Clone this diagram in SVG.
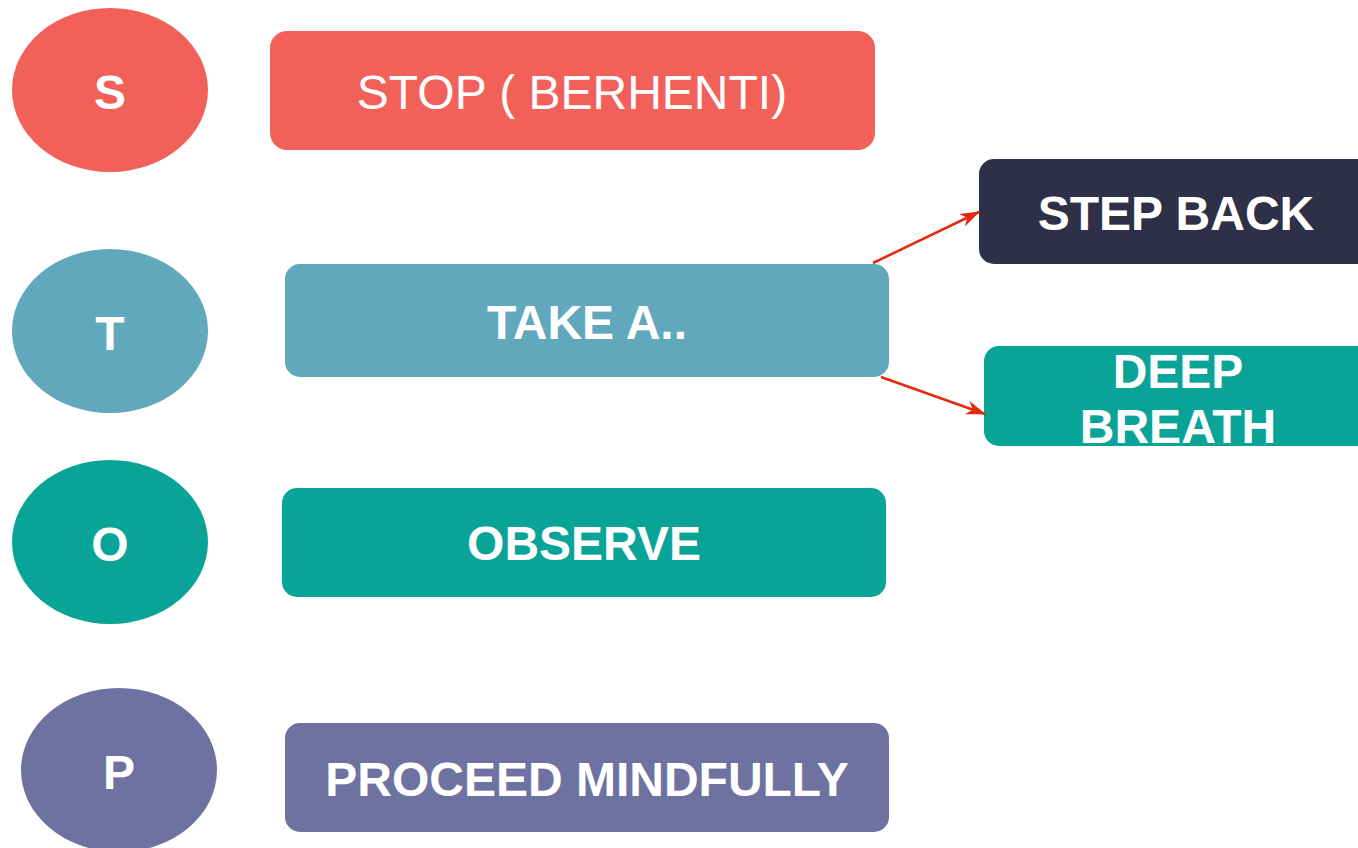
<svg xmlns="http://www.w3.org/2000/svg" width="1358" height="848" viewBox="0 0 1358 848">
  <style>
    .lbl { font-family: "Liberation Sans", Arial, sans-serif; fill: #ffffff; text-anchor: middle; font-size: 48px; }
    .b { font-weight: bold; }
    .link { stroke: #E5290E; stroke-width: 2.5; fill: none; marker-end: url(#head); }
  </style>
  <defs>
    <marker id="head" viewBox="0 0 20 14" refX="19" refY="7" markerWidth="20" markerHeight="14" markerUnits="userSpaceOnUse" orient="auto">
      <path d="M0,0 L20,7 L0,14 L6,7 z" fill="#E5290E"/>
    </marker>
  </defs>
  <rect width="1358" height="848" fill="#ffffff"/>

  <g id="circle-s">
    <ellipse cx="110" cy="90" rx="98" ry="82" fill="#F2605A"/>
    <text class="lbl b" x="110" y="109" font-size="46">S</text>
  </g>
  <g id="circle-t">
    <ellipse cx="110" cy="331" rx="98" ry="82" fill="#62A8BD"/>
    <text class="lbl b" x="110" y="350" font-size="46">T</text>
  </g>
  <g id="circle-o">
    <ellipse cx="110" cy="542" rx="98" ry="82" fill="#0AA398"/>
    <text class="lbl b" x="110" y="561" font-size="46">O</text>
  </g>
  <g id="circle-p">
    <ellipse cx="119" cy="770" rx="98" ry="82" fill="#6D72A1"/>
    <text class="lbl b" x="119" y="789" font-size="46">P</text>
  </g>

  <g id="stop">
    <rect x="270" y="31" width="605" height="119" rx="17" fill="#F2605A"/>
    <text class="lbl" x="572" y="109">STOP ( BERHENTI)</text>
  </g>
  <g id="take">
    <rect x="285" y="264" width="604" height="113" rx="15" fill="#62A8BD"/>
    <text class="lbl b" x="587" y="339">TAKE A..</text>
  </g>
  <g id="observe">
    <rect x="282" y="488" width="604" height="109" rx="15" fill="#0AA398"/>
    <text class="lbl b" x="584" y="560">OBSERVE</text>
  </g>
  <g id="proceed">
    <rect x="285" y="723" width="604" height="109" rx="15" fill="#6D72A1"/>
    <text class="lbl b" x="587" y="796">PROCEED MINDFULLY</text>
  </g>
  <g id="step-back">
    <rect x="979" y="159" width="400" height="105" rx="15" fill="#2E3047"/>
    <text class="lbl b" x="1176" y="230">STEP BACK</text>
  </g>
  <g id="deep-breath">
    <rect x="984" y="346" width="400" height="100" rx="15" fill="#0AA398"/>
    <text class="lbl b" x="1178" y="388">DEEP</text>
    <text class="lbl b" x="1178" y="443">BREATH</text>
  </g>

  <g id="connectors">
    <line class="link" x1="873" y1="263" x2="979" y2="212"/>
    <line class="link" x1="881" y1="377" x2="985" y2="414"/>
  </g>
</svg>
